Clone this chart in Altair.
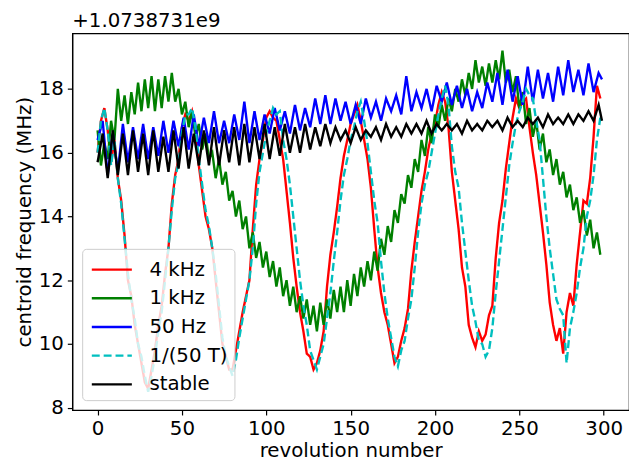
import altair as alt
import pandas as pd

labels = ["4 kHz", "1 kHz", "50 Hz", "1/(50 T)", "stable"]
colors = ["#ff0000", "#008000", "#0000ff", "#00bfbf", "#000000"]
dashes = [[1, 0], [1, 0], [1, 0], [8, 4], [1, 0]]

x_fast = list(range(0, 300, 2))
x_slow = list(range(0, 300, 3)) + [299]

red = [16.0, 17.0, 17.4, 16.7, 15.7, 16.4, 15.2, 14.5, 13.4, 12.0,
       11.5, 10.6, 10.0, 9.4, 8.8, 8.6, 9.2, 9.8, 10.6, 11.2,
       12.2, 13.0, 14.4, 15.3, 15.8, 16.8, 17.2, 17.0, 17.3, 16.7,
       15.6, 14.8, 14.0, 13.6, 13.0, 12.0, 11.0, 10.0, 9.6, 9.2,
       9.2, 9.8, 10.4, 11.0, 11.5, 12.0, 13.6, 15.0, 15.8, 16.4,
       17.1, 17.3, 17.1, 17.0, 16.4, 15.8, 14.8, 13.8, 12.7, 11.8,
       11.0, 10.4, 9.7, 9.6, 9.2, 9.4, 9.8, 10.4, 11.8, 12.8,
       13.5, 14.3, 15.2, 15.9, 16.4, 16.9, 17.2, 17.5, 17.0, 16.4,
       15.8, 14.9, 13.6, 12.4, 11.6, 11.0, 10.6, 10.0, 9.4, 9.6,
       10.1, 10.5, 11.1, 12.3, 13.2, 14.0, 14.8, 15.4, 16.1, 16.6,
       16.9, 17.5, 17.9, 17.6, 16.8, 15.4, 14.5, 13.6, 12.4, 11.8,
       10.6, 10.2, 9.9, 10.4, 10.1, 10.3, 10.9, 11.2, 12.7, 13.8,
       14.5, 15.5, 16.3, 17.1, 17.7, 17.4, 17.6, 17.7, 16.8, 16.0,
       15.3, 14.4, 13.5, 12.5, 11.3, 10.6, 10.1, 10.5, 9.7, 11.0,
       11.6, 11.2, 12.5, 13.5, 14.5, 14.4, 15.2, 16.5, 18.1, 17.7]

cyan = [16.0, 17.0, 17.4, 16.7, 15.6, 16.4, 15.2, 14.4, 13.3, 12.2,
        11.4, 10.8, 10.0, 9.6, 9.0, 8.5, 9.0, 9.6, 10.4, 11.0,
        12.0, 13.0, 14.2, 15.2, 15.7, 16.6, 17.2, 17.2, 17.4, 16.8,
        15.8, 15.0, 14.2, 13.7, 13.0, 12.2, 11.2, 10.2, 9.6, 9.3,
        9.0, 9.5, 10.2, 10.8, 11.4, 12.0, 13.0, 14.4, 15.4, 16.0,
        16.6, 17.0, 17.4, 17.2, 17.3, 16.4, 15.8, 15.0, 14.0, 13.0,
        12.0, 11.2, 10.6, 9.8, 9.5, 9.2, 9.6, 10.0, 10.8, 11.6,
        12.6, 13.5, 14.5, 15.3, 15.8, 16.4, 16.8, 17.3, 17.6, 17.0,
        16.3, 15.4, 14.5, 13.8, 12.6, 11.6, 10.8, 10.2, 9.6, 9.3,
        9.8, 10.1, 10.8, 11.4, 12.4, 13.5, 14.4, 15.0, 15.4, 16.0,
        16.6, 17.2, 17.7, 18.1, 17.5, 16.2, 15.4, 14.9, 13.8, 12.9,
        12.0, 11.2, 10.7, 10.1, 10.0, 9.6, 9.8, 10.5, 11.6, 12.6,
        13.6, 14.6, 15.6, 16.3, 16.9, 17.3, 17.6, 18.0, 17.8, 17.7,
        17.0, 16.4, 15.2, 14.0, 13.0, 12.2, 11.4, 11.1, 10.9, 9.4,
        10.5, 11.0, 11.6, 12.4, 13.0, 14.0, 14.5, 15.3, 16.4, 17.1]

green = [16.7, 15.6, 16.3, 15.8, 17.0, 16.4, 18.0, 17.0, 17.8, 16.9,
         17.9, 17.2, 18.2, 17.3, 18.3, 17.4, 18.4, 17.3, 18.3, 17.4,
         18.4, 17.6, 18.5, 17.6, 18.0, 17.2, 17.6, 16.8, 17.3, 16.5,
         16.9, 16.1, 16.6, 15.8, 16.0, 15.2, 15.8, 15.0, 15.4, 14.5,
         14.8, 14.0, 14.5, 13.6, 14.0, 13.0, 13.5, 12.7, 13.2, 12.4,
         12.9, 12.1, 12.6, 11.8, 12.4, 11.5, 12.0, 11.2, 11.8, 11.0,
         11.5, 10.8, 11.4, 10.6, 11.2, 10.4, 11.3, 10.6, 11.4, 10.8,
         11.7, 11.0, 11.8, 11.0, 12.0, 11.2, 12.2, 11.5, 12.4, 11.8,
         12.6, 12.0, 12.9, 12.3, 13.3, 12.8, 13.7, 13.2, 14.2, 13.8,
         14.7, 14.4, 15.3, 14.9, 15.8, 15.4, 16.4, 15.9, 16.8, 16.3,
         17.2, 16.8, 17.5, 17.0, 17.7, 17.3, 18.0, 17.6, 18.3, 17.8,
         18.5, 18.0, 18.9, 18.2, 18.7, 18.1, 18.8, 18.2, 18.9, 18.3,
         19.2, 18.2, 18.6, 17.9, 18.4, 17.4, 17.9, 16.9, 17.4, 16.5,
         17.0, 16.1, 16.6, 15.7, 16.1, 15.3, 15.8, 15.0, 15.4, 14.6,
         15.0, 14.2, 14.6, 13.8, 14.2, 13.4, 13.9, 13.0, 13.5, 12.8]

blue = [16.4, 17.0, 15.3, 16.6, 15.4, 16.9, 15.7, 16.8, 15.8, 16.9,
        15.8, 16.8, 15.9, 17.0, 16.0, 17.0, 16.2, 17.1, 16.1, 17.2,
        16.2, 17.1, 16.3, 17.3, 16.3, 17.0, 16.3, 17.2, 16.4, 17.6,
        16.3, 17.3, 16.4, 17.2, 16.6, 17.4, 16.7, 17.3, 16.6, 17.5,
        16.7, 17.4, 16.8, 17.7, 16.9, 17.8, 16.9, 17.7, 17.0, 17.6,
        16.9, 17.5, 16.9, 17.7, 17.1, 17.6, 17.0, 17.7, 17.3, 17.8,
        17.2, 18.4, 17.3, 17.9, 17.4, 18.0, 17.3, 18.1, 17.6, 18.2,
        17.5, 18.1, 17.4, 18.0, 17.3, 17.9, 17.4, 18.2, 17.6, 18.5,
        17.5, 18.6, 17.6, 18.4, 17.5, 18.7, 17.6, 18.6, 17.7, 18.5,
        17.6, 18.7, 17.8, 18.9, 17.9, 18.6, 17.8, 18.8, 17.9, 18.5,
        18.3]

black = [15.7, 16.6, 15.2, 16.7, 15.3, 16.6, 15.3, 16.7, 15.4, 16.6,
         15.3, 16.7, 15.4, 16.5, 15.4, 16.7, 15.5, 16.8, 15.5, 16.6,
         15.6, 16.7, 15.6, 16.8, 15.6, 16.7, 15.7, 16.8, 15.6, 16.9,
         15.7, 16.8, 15.8, 16.9, 15.8, 16.8, 15.9, 16.9, 16.0, 16.8,
         16.0, 16.9, 16.1, 16.8, 16.2, 16.9, 16.3, 16.8, 16.4, 16.7,
         16.3, 16.8, 16.4, 16.7, 16.5, 16.8, 16.4, 16.9, 16.5, 16.8,
         16.5, 16.9, 16.6, 16.9, 16.6, 17.0, 16.6, 16.9, 16.7, 16.9,
         16.7, 16.9, 16.6, 17.0, 16.7, 16.9, 16.7, 17.0, 16.8, 17.0,
         16.7, 17.1, 16.8, 17.0, 16.8, 17.1, 16.9, 17.1, 16.8, 17.2,
         16.9, 17.1, 16.9, 17.2, 16.9, 17.2, 17.0, 17.3, 17.0, 17.5,
         17.0]

series_x = [x_fast, x_fast, x_slow, x_fast, x_slow]
series_y = [red, green, blue, cyan, black]

rows = []
for k, (lab, xs, ys) in enumerate(zip(labels, series_x, series_y)):
    for xv, yv in zip(xs, ys):
        rows.append({"n": xv, "f": yv, "series": lab, "k": k})
df = pd.DataFrame(rows)

FONT = "DejaVu Sans"

chart = alt.Chart(df).mark_line(strokeWidth=2.4, clip=True).encode(
    x=alt.X("n:Q", title="revolution number",
            scale=alt.Scale(domain=[-15, 315], nice=False, zero=False),
            axis=alt.Axis(values=[0, 50, 100, 150, 200, 250, 300], format="d",
                          titlePadding=2)),
    y=alt.Y("f:Q", title="centroid frequency (MHz)",
            scale=alt.Scale(domain=[7.93, 19.745], nice=False, zero=False),
            axis=alt.Axis(values=[8, 10, 12, 14, 16, 18], format="d")),
    color=alt.Color("series:N", title=None,
                    scale=alt.Scale(domain=labels, range=colors),
                    sort=labels),
    strokeDash=alt.StrokeDash("series:N", title=None,
                              scale=alt.Scale(domain=labels, range=dashes),
                              sort=labels),
    detail="k:O",
).properties(
    width=563,
    height=381,
    title=alt.TitleParams("+1.0738731e9", anchor="start", frame="group",
                          fontSize=20, fontWeight="normal", font=FONT,
                          color="black", offset=2),
    autosize=alt.AutoSizeParams(type="none"),
    padding={"left": 65, "top": 23, "right": 0, "bottom": 51},
).configure_view(
    stroke="black", strokeWidth=1.2
).configure_axis(
    grid=False, domainColor="black", domainWidth=1.2, tickColor="black",
    tickSize=5, tickWidth=1.2, labelFont=FONT, labelFontSize=20,
    labelColor="black", labelPadding=4, titleFont=FONT, titleFontSize=20,
    titleFontWeight="normal", titleColor="black", titlePadding=4,
).configure_legend(
    orient="bottom-left", offset=10, fillColor="rgba(255,255,255,0.8)",
    strokeColor="#cccccc", cornerRadius=4, padding=6,
    labelFont=FONT, labelFontSize=20, labelColor="black",
    symbolType="M-1.5,0H1.5", symbolSize=729, symbolStrokeWidth=2.4,
    symbolOffset=9, labelOffset=23, rowPadding=4,
)

chart.save("out.html", embed_options={"renderer": "svg", "actions": False})
